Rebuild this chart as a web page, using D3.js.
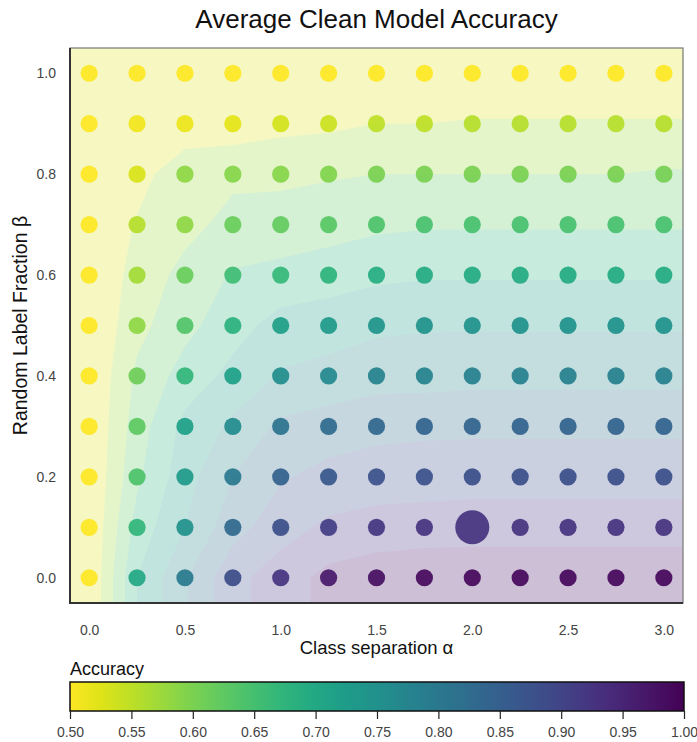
<!DOCTYPE html>
<html>
<head>
<meta charset="utf-8">
<title>Average Clean Model Accuracy</title>
<script src="https://cdn.jsdelivr.net/npm/d3@7"></script>
<style>
body { margin: 0; background: #fff; }
svg { display: block; font-family: "Liberation Sans", Arial, sans-serif; }
.tick text { fill: #444; font-size: 14px; }
</style>
</head>
<body>
<svg id="chart" width="697" height="742"></svg>
<script>
// grid of runs: class separation (x) and random label fraction (y)
var alphas = [0, 0.25, 0.5, 0.75, 1.0, 1.25, 1.5, 1.75, 2.0, 2.25, 2.5, 2.75, 3.0];
var betas = [0, 0.1, 0.2, 0.3, 0.4, 0.5, 0.6, 0.7, 0.8, 0.9, 1.0];

// mean clean accuracy, one row per beta (beta = 0 first)
var acc00 = [0.50, 0.70, 0.795, 0.885, 0.925, 0.965, 0.98, 0.985, 0.99, 0.99, 0.99, 0.99, 0.99];
var acc01 = [0.50, 0.67, 0.75, 0.83, 0.88, 0.91, 0.92, 0.925, 0.925, 0.925, 0.925, 0.925, 0.925];
var acc02 = [0.50, 0.64, 0.73, 0.80, 0.845, 0.865, 0.875, 0.875, 0.88, 0.88, 0.88, 0.88, 0.88];
var acc03 = [0.50, 0.625, 0.715, 0.76, 0.81, 0.825, 0.835, 0.84, 0.84, 0.84, 0.84, 0.84, 0.84];
var acc04 = [0.50, 0.61, 0.67, 0.715, 0.755, 0.765, 0.78, 0.78, 0.785, 0.785, 0.785, 0.785, 0.785];
var acc05 = [0.50, 0.585, 0.635, 0.68, 0.72, 0.73, 0.74, 0.745, 0.745, 0.745, 0.745, 0.745, 0.745];
var acc06 = [0.50, 0.57, 0.615, 0.655, 0.665, 0.675, 0.69, 0.695, 0.695, 0.695, 0.695, 0.695, 0.695];
var acc07 = [0.50, 0.555, 0.585, 0.615, 0.62, 0.63, 0.64, 0.645, 0.645, 0.645, 0.645, 0.645, 0.645];
var acc08 = [0.50, 0.53, 0.585, 0.59, 0.59, 0.595, 0.60, 0.60, 0.60, 0.60, 0.60, 0.60, 0.605];
var acc09 = [0.50, 0.51, 0.515, 0.52, 0.535, 0.54, 0.55, 0.55, 0.555, 0.555, 0.555, 0.555, 0.555];
var acc10 = [0.50, 0.50, 0.50, 0.50, 0.50, 0.50, 0.50, 0.50, 0.50, 0.50, 0.50, 0.50, 0.50];
var accuracy = [acc00, acc01, acc02, acc03, acc04, acc05, acc06, acc07, acc08, acc09, acc10];

// the highlighted run
var highlightAlpha = 2.0;
var highlightBeta = 0.1;

var xTicks = [0, 0.5, 1.0, 1.5, 2.0, 2.5, 3.0];
var yTicks = [0, 0.2, 0.4, 0.6, 0.8, 1.0];
var cbTicks = [0.50, 0.55, 0.60, 0.65, 0.70, 0.75, 0.80, 0.85, 0.90, 0.95, 1.00];
var bandThresholds = [0.50, 0.55, 0.60, 0.65, 0.70, 0.75, 0.80, 0.85, 0.90, 0.95];

var svg = d3.select("#chart");

var plotLeft = 70, plotRight = 683, plotTop = 48, plotBottom = 603;

var x = d3.scaleLinear().domain([-0.1, 3.1]).range([plotLeft, plotRight]);
var y = d3.scaleLinear().domain([-0.05, 1.05]).range([plotBottom, plotTop]);

// accuracy -> reversed viridis
var color = d3.scaleSequential(function(t){ return d3.interpolateViridis(1 - t); }).domain([0.5, 1.0]);

// ---- background contour bands ----
svg.append("clipPath").attr("id", "plotclip")
	.append("rect")
	.attr("x", plotLeft).attr("y", plotTop)
	.attr("width", plotRight - plotLeft).attr("height", plotBottom - plotTop);

// pad the grid by one cell on each side (copy of the edge) so bands reach the frame
var nx = alphas.length + 2, ny = betas.length + 2;
var grid = new Array(nx * ny);
for (var j = 0; j < ny; j++) {
	for (var i = 0; i < nx; i++) {
		var bj = Math.min(Math.max(j - 1, 0), betas.length - 1);
		var ai = Math.min(Math.max(i - 1, 0), alphas.length - 1);
		grid[j * nx + i] = accuracy[bj][ai];
	}
}

// grid coordinate (index k sits at k + 1.5) -> data value
var gx = d3.scaleLinear().domain([1.5, alphas.length + 0.5]).range([alphas[0], alphas[alphas.length - 1]]);
var gy = d3.scaleLinear().domain([1.5, betas.length + 0.5]).range([betas[0], betas[betas.length - 1]]);

var proj = d3.geoTransform({
	point: function(px, py) { this.stream.point(x(gx(px)), y(gy(py))); }
});
var contourPath = d3.geoPath(proj);

var contours = d3.contours().size([nx, ny]).thresholds(bandThresholds)(grid);

svg.append("g")
	.attr("clip-path", "url(#plotclip)")
	.selectAll("path")
	.data(contours)
	.enter()
	.append("path")
	.attr("d", contourPath)
	.attr("fill", function(d){ return d3.interpolateRgb("#ffffff", color(d.value + 0.025))(0.27); })
	.attr("stroke", "none");

// ---- points ----
var points = [];
betas.forEach(function(b, bi){
	alphas.forEach(function(a, ai){
		points.push({alpha: a, beta: b, acc: accuracy[bi][ai]});
	});
});

svg.append("g")
	.selectAll("circle")
	.data(points)
	.enter()
	.append("circle")
	.attr("cx", function(d){ return x(d.alpha); })
	.attr("cy", function(d){ return y(d.beta); })
	.attr("r", function(d){ return (d.alpha === highlightAlpha && Math.abs(d.beta - highlightBeta) < 1e-9) ? 17 : 8.6; })
	.attr("fill", function(d){ return color(d.acc); })
	.attr("fill-opacity", 0.93);

// frame
svg.append("rect")
	.attr("x", plotLeft).attr("y", plotTop)
	.attr("width", plotRight - plotLeft).attr("height", plotBottom - plotTop)
	.attr("fill", "none").attr("stroke", "#777").attr("stroke-width", 1.2);
svg.append("path")
	.attr("d", "M" + plotLeft + "," + plotTop + "V" + plotBottom + "H" + plotRight)
	.attr("fill", "none").attr("stroke", "#333").attr("stroke-width", 2);

// ---- axes (labels only) ----
var xAxis = svg.append("g")
	.attr("transform", "translate(0," + plotBottom + ")")
	.call(d3.axisBottom(x).tickValues(xTicks).tickFormat(d3.format(".1f")).tickSize(0).tickPadding(22));
xAxis.select(".domain").remove();

var yAxis = svg.append("g")
	.attr("transform", "translate(" + plotLeft + ",0)")
	.call(d3.axisLeft(y).tickValues(yTicks).tickFormat(d3.format(".1f")).tickSize(0).tickPadding(14));
yAxis.select(".domain").remove();

// titles
svg.append("text")
	.attr("x", (plotLeft + plotRight) / 2).attr("y", 28)
	.attr("text-anchor", "middle")
	.attr("font-size", 26).attr("fill", "#111")
	.text("Average Clean Model Accuracy");

svg.append("text")
	.attr("x", (plotLeft + plotRight) / 2).attr("y", 654)
	.attr("text-anchor", "middle")
	.attr("font-size", 18.5).attr("fill", "#111")
	.text("Class separation α");

svg.append("text")
	.attr("transform", "translate(27," + ((plotTop + plotBottom) / 2) + ") rotate(-90)")
	.attr("text-anchor", "middle")
	.attr("font-size", 19.5).attr("fill", "#111")
	.text("Random Label Fraction β");

// ---- colorbar ----
var cbLeft = 70, cbRight = 684, cbTop = 682, cbBottom = 711;
var cbx = d3.scaleLinear().domain([0.5, 1.0]).range([cbLeft, cbRight]);

var grad = svg.append("defs").append("linearGradient")
	.attr("id", "cbgrad")
	.attr("x1", "0%").attr("x2", "100%").attr("y1", "0%").attr("y2", "0%");
d3.range(0, 1.0001, 0.05).forEach(function(t){
	grad.append("stop")
		.attr("offset", (t * 100) + "%")
		.attr("stop-color", color(0.5 + t * 0.5));
});

svg.append("rect")
	.attr("x", cbLeft).attr("y", cbTop)
	.attr("width", cbRight - cbLeft).attr("height", cbBottom - cbTop)
	.attr("fill", "url(#cbgrad)")
	.attr("stroke", "#111").attr("stroke-width", 1.5);

var cbAxis = svg.append("g")
	.attr("transform", "translate(0," + cbBottom + ")")
	.call(d3.axisBottom(cbx).tickValues(cbTicks).tickFormat(d3.format(".2f")).tickSize(8).tickPadding(8));
cbAxis.select(".domain").remove();
cbAxis.selectAll(".tick line").attr("stroke", "#222").attr("stroke-width", 1.2);

svg.append("text")
	.attr("x", cbLeft).attr("y", 675)
	.attr("font-size", 18).attr("fill", "#111")
	.text("Accuracy");
</script>
</body>
</html>
